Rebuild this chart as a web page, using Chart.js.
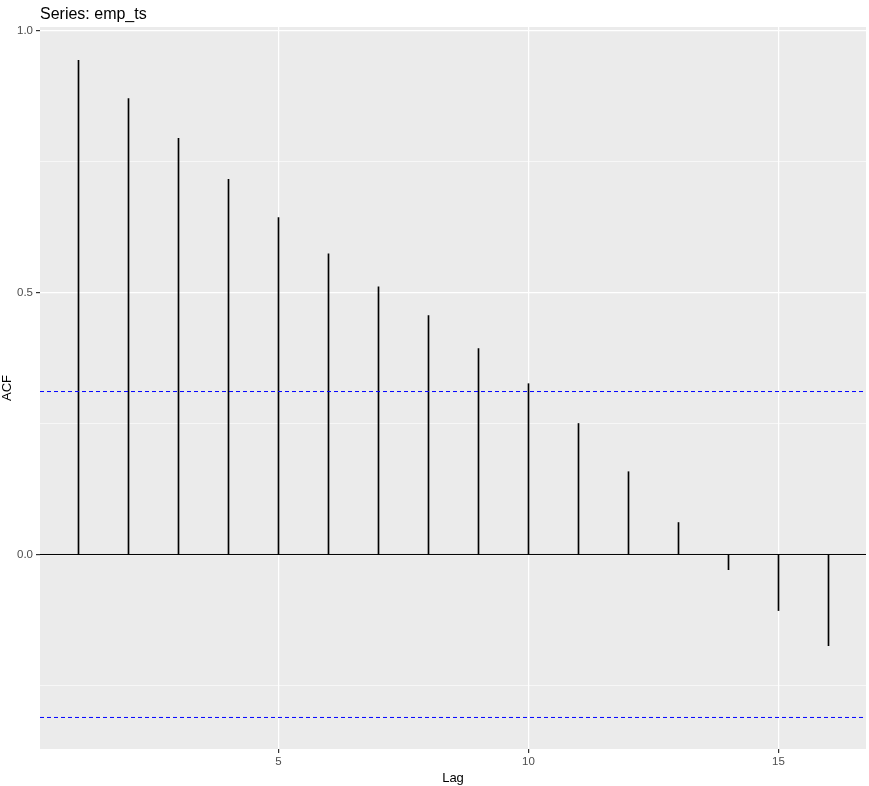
<!DOCTYPE html>
<html>
<head>
<meta charset="utf-8">
<script src="https://cdn.jsdelivr.net/npm/chart.js@4"></script>
<style>
    html, body { margin: 0; padding: 0; background: #ffffff; }
    #wrap { width: 869px; height: 786px; position: relative; }
</style>
</head>
<body>
<div id="wrap"><canvas id="acfChart"></canvas></div>
<script>
    'use strict';

    // ACF values
    const lags = [1, 2, 3, 4, 5, 6, 7, 8, 9, 10, 11, 12, 13, 14, 15, 16];
    const acfValues = [0.943, 0.870, 0.794, 0.716, 0.643, 0.574, 0.511, 0.456,
                       0.393, 0.326, 0.250, 0.158, 0.061, -0.029, -0.107, -0.174];
    const ciBound = 0.311;
    const yTicks = [-0.25, 0, 0.25, 0.5, 0.75, 1.0];
    const xTicks = [5, 10, 15];
    const yRange = [-0.3712, 1.0067];
    const xRange = [0.23, 16.75];

    const FONT = '"Liberation Sans", Arial, sans-serif';

    /**
     * Grey panel background behind the grid
     */
    const panelBackground = {
        id: 'panelBackground',
        beforeDraw(chart) {
            const { ctx, chartArea } = chart;
            ctx.save();
            ctx.fillStyle = '#EBEBEB';
            ctx.fillRect(chartArea.left, chartArea.top,
                chartArea.right - chartArea.left, chartArea.bottom - chartArea.top);
            ctx.restore();
        }
    };

    /**
     * Plot title in the top left, aligned with the panel
     */
    const plotTitle = {
        id: 'plotTitle',
        afterDraw(chart) {
            const { ctx, chartArea } = chart;
            ctx.save();
            ctx.fillStyle = '#000000';
            ctx.font = '16px ' + FONT;
            ctx.textBaseline = 'alphabetic';
            ctx.textAlign = 'left';
            ctx.fillText('Series: emp_ts', chartArea.left, 19);
            ctx.restore();
        }
    };

    const isMajor = v => Math.abs(v * 2 - Math.round(v * 2)) < 1e-6;

    new Chart(document.getElementById('acfChart'), {
        data: {
            datasets: [
                {
                    type: 'line',
                    data: [{ x: xRange[0], y: 0 }, { x: xRange[1], y: 0 }],
                    borderColor: '#000000',
                    borderWidth: 1,
                    pointRadius: 0,
                    order: 2
                },
                {
                    type: 'bar',
                    data: lags.map((l, i) => ({ x: l, y: [0, acfValues[i]] })),
                    backgroundColor: '#000000',
                    borderWidth: 0,
                    barThickness: 1,
                    order: 1
                },
                {
                    type: 'line',
                    data: [{ x: xRange[0], y: ciBound }, { x: xRange[1], y: ciBound }],
                    borderColor: '#0000FF',
                    borderWidth: 1,
                    borderDash: [4, 3],
                    pointRadius: 0,
                    order: 0
                },
                {
                    type: 'line',
                    data: [{ x: xRange[0], y: -ciBound }, { x: xRange[1], y: -ciBound }],
                    borderColor: '#0000FF',
                    borderWidth: 1,
                    borderDash: [4, 3],
                    pointRadius: 0,
                    order: 0
                }
            ]
        },
        options: {
            responsive: true,
            maintainAspectRatio: false,
            animation: false,
            layout: { padding: { top: 27, right: 3, left: 0, bottom: 0 } },
            plugins: {
                legend: { display: false },
                tooltip: { enabled: false }
            },
            scales: {
                x: {
                    type: 'linear',
                    min: xRange[0],
                    max: xRange[1],
                    offset: false,
                    border: { display: false },
                    afterBuildTicks(scale) {
                        scale.ticks = xTicks.map(v => ({ value: v }));
                    },
                    afterFit(scale) {
                        scale.height = 37;
                    },
                    grid: {
                        offset: false,
                        color: '#FFFFFF',
                        lineWidth: 1.2,
                        tickColor: '#333333',
                        tickLength: 4
                    },
                    ticks: {
                        autoSkip: false,
                        maxRotation: 0,
                        padding: 2,
                        color: '#4D4D4D',
                        font: { family: FONT, size: 11.5 },
                        callback: v => String(v)
                    },
                    title: {
                        display: true,
                        text: 'Lag',
                        color: '#000000',
                        font: { family: FONT, size: 13 },
                        padding: { top: 2, bottom: 0 }
                    }
                },
                y: {
                    type: 'linear',
                    min: yRange[0],
                    max: yRange[1],
                    border: { display: false },
                    afterBuildTicks(scale) {
                        scale.ticks = yTicks.map(v => ({ value: v }));
                    },
                    afterFit(scale) {
                        scale.width = 40;
                    },
                    grid: {
                        color: '#FFFFFF',
                        lineWidth: c => isMajor(c.tick.value) ? 1.2 : 0.6,
                        tickColor: c => isMajor(c.tick.value) ? '#333333' : 'rgba(0,0,0,0)',
                        tickLength: 4
                    },
                    ticks: {
                        padding: 3,
                        color: '#4D4D4D',
                        font: { family: FONT, size: 11.5 },
                        callback: v => isMajor(v) ? v.toFixed(1) : ''
                    },
                    title: {
                        display: true,
                        text: 'ACF',
                        color: '#000000',
                        font: { family: FONT, size: 13 },
                        padding: { top: 0, bottom: 2 }
                    }
                }
            }
        },
        plugins: [panelBackground, plotTitle]
    });
</script>
</body>
</html>
